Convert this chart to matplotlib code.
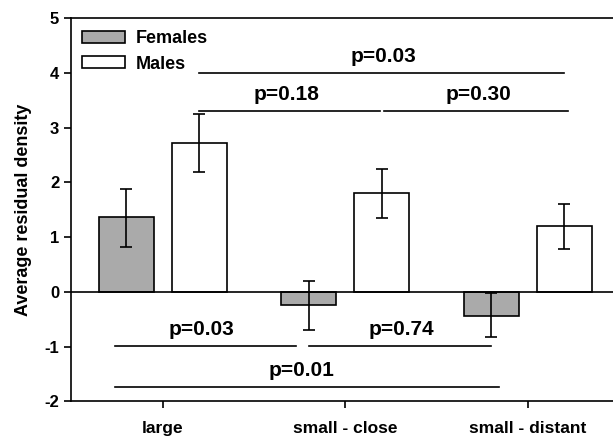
import matplotlib
matplotlib.use('Agg')
import matplotlib.pyplot as plt
import numpy as np

plt.rcParams['font.family'] = ['Liberation Sans', 'DejaVu Sans']
plt.rcParams['font.weight'] = 'bold'
plt.rcParams['axes.unicode_minus'] = False

# data
categories = ['large', 'small - close', 'small - distant']
females = [1.36, -0.25, -0.44]
females_err_hi = [1.88, 0.20, -0.03]
females_err_lo = [0.82, -0.69, -0.83]
males = [2.72, 1.81, 1.20]
males_err_hi = [3.24, 2.25, 1.60]
males_err_lo = [2.19, 1.35, 0.79]

# significance lines: x start, x end, y, label and label centre
sig_x0 = [0.20, 0.20, 1.21, -0.26, 0.80, -0.26]
sig_x1 = [2.20, 1.19, 2.22, 0.73, 1.80, 1.84]
sig_y = [4.0, 3.3, 3.3, -0.99, -0.99, -1.73]
sig_labels = ['p=0.03', 'p=0.18', 'p=0.30', 'p=0.03', 'p=0.74', 'p=0.01']
sig_text_x = [1.21, 0.68, 1.73, 0.21, 1.31, 0.76]

x = np.arange(len(categories))
w = 0.30
off = 0.20

fig = plt.figure(figsize=(6.13, 4.36), dpi=100)
ax = fig.add_axes([0.1158, 0.0796, 0.8842, 0.8791])

f = np.array(females)
m = np.array(males)
ferr = [f - np.array(females_err_lo), np.array(females_err_hi) - f]
merr = [m - np.array(males_err_lo), np.array(males_err_hi) - m]

ax.bar(x - off, f, w, color='#aaaaaa', edgecolor='black', linewidth=1.2, label='Females', zorder=2)
ax.bar(x + off, m, w, color='white', edgecolor='black', linewidth=1.2, label='Males', zorder=2)
ax.errorbar(x - off, f, yerr=ferr, fmt='none', ecolor='black', elinewidth=1.2, capsize=4, capthick=1.2, zorder=3)
ax.errorbar(x + off, m, yerr=merr, fmt='none', ecolor='black', elinewidth=1.2, capsize=4, capthick=1.2, zorder=3)
ax.axhline(0, color='black', linewidth=1.2, zorder=4)

for x0, x1, y, lab, tx in zip(sig_x0, sig_x1, sig_y, sig_labels, sig_text_x):
    ax.plot([x0, x1], [y, y], color='black', linewidth=1.2)
    ax.text(tx, y + 0.2, lab, ha='center', va='baseline', fontsize=15, fontweight='bold')

ax.set_xlim(-0.502, 2.467)
ax.set_ylim(-2, 5)
ax.set_xticks(x)
ax.set_xticklabels(categories, fontsize=12.5, fontweight='bold')
ax.set_yticks(range(-2, 6))
ax.tick_params(axis='both', direction='out', length=5, width=1.2, labelsize=12)
ax.tick_params(axis='x', pad=9, labelsize=12.5)
ax.set_ylabel('Average residual density', fontsize=13, fontweight='bold', labelpad=9)
for s in ['left', 'bottom', 'top']:
    ax.spines[s].set_linewidth(1.2)
ax.spines['right'].set_visible(False)

ax.legend(loc='upper left', bbox_to_anchor=(-0.009, 1.01), frameon=False, fontsize=13,
          handlelength=2.35, handleheight=0.6, labelspacing=0.45, handletextpad=0.6, borderpad=0.4)

fig.savefig('out.png', dpi=100)
